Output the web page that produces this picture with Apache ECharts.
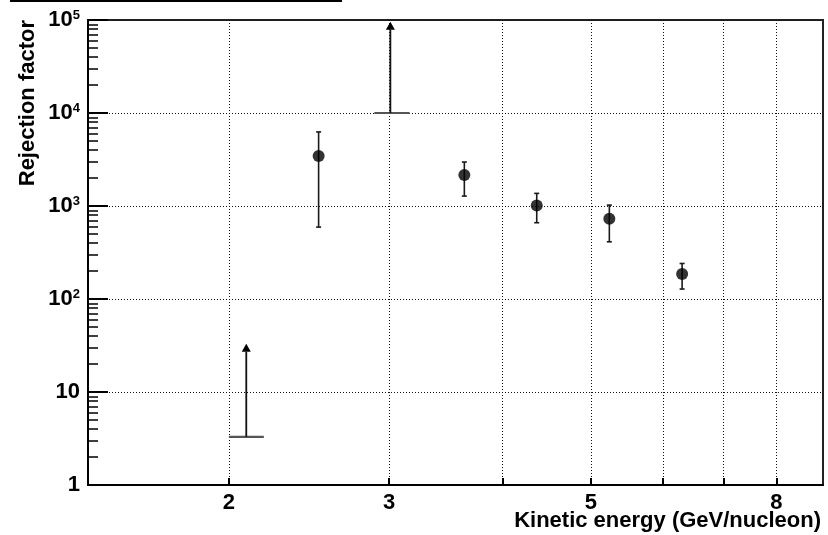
<!DOCTYPE html>
<html>
<head>
<meta charset="utf-8">
<title>Rejection factor vs kinetic energy</title>
<script src="https://cdn.jsdelivr.net/npm/echarts@6/dist/echarts.min.js"></script>
<style>
  html, body { margin: 0; padding: 0; background: #fff; }
  #chart { width: 828px; height: 535px; }
</style>
</head>
<body>
<div id="chart"></div>
<script>
// Measured points (kinetic energy in GeV/nucleon) with asymmetric errors
const energy = [2.51, 3.63, 4.36, 5.24, 6.30];
const rejection = [3450, 2150, 1015, 730, 186];
const rejectionLow = [593, 1278, 661, 412, 128];
const rejectionHigh = [6260, 2970, 1367, 1023, 241];

// Lower limits: bin centre, limit value, arrow end, bin edges
const limitEnergy = [2.09, 3.01];
const limitValue = [3.3, 10000];
const limitArrowEnd = [33, 96000];
const limitBinFrom = [2.0, 2.89];
const limitBinTo = [2.185, 3.16];

// Axis ticks and labels
const xTicks = [2, 3, 4, 5, 6, 7, 8];
const xLabels = [2, 3, 5, 8];
const xRange = [1.4, 9];
const yDecades = [0, 1, 2, 3, 4, 5];
const yMinorMultipliers = [2, 3, 4, 5, 6, 7, 8, 9];

const lg = Math.log10;
const FONT = '"Liberation Sans", Arial, Helvetica, sans-serif';
const FS = 22;

const yMinorTicks = [];
yDecades.slice(0, -1).forEach(d => yMinorMultipliers.forEach(m => yMinorTicks.push(d + lg(m))));

const pointData = energy.map((e, i) => [lg(e), lg(rejection[i])]);
const errorData = energy.map((e, i) => [lg(e), lg(rejectionLow[i]), lg(rejectionHigh[i])]);
const limitData = limitEnergy.map((e, i) => [lg(e), lg(limitValue[i]), lg(limitArrowEnd[i]), lg(limitBinFrom[i]), lg(limitBinTo[i])]);

const chart = echarts.init(document.getElementById('chart'), null, { renderer: 'canvas' });

const dotted = { type: [1, 2], color: '#111', width: 1 };

chart.setOption({
  animation: false,
  backgroundColor: '#fff',
  grid: { left: 88, right: 5, top: 20, bottom: 50, show: true, borderColor: '#222', borderWidth: 2 },
  xAxis: {
    type: 'value',
    min: lg(xRange[0]),
    max: lg(xRange[1]),
    axisLine: { show: true, onZero: false, lineStyle: { color: '#000', width: 2 } },
    axisTick: { show: true, inside: true, length: 7, customValues: xTicks.map(lg), lineStyle: { color: '#000', width: 2 } },
    axisLabel: {
      customValues: xLabels.map(lg),
      formatter: v => String(Math.round(Math.pow(10, v))),
      fontFamily: FONT, fontSize: FS, fontWeight: 'bold', color: '#000', margin: 7
    },
    splitLine: { show: true, lineStyle: dotted }
  },
  yAxis: [{
    type: 'value',
    min: 0, max: 5, interval: 1,
    axisLine: { show: true, onZero: false, lineStyle: { color: '#000', width: 2 } },
    axisTick: { show: true, inside: true, length: 20, lineStyle: { color: '#000', width: 2 } },
    axisLabel: {
      margin: 8,
      formatter: v => v === 0 ? '{b|1}' : (v === 1 ? '{b|10}' : '{b|10}{s|' + v + '}'),
      rich: {
        b: { fontFamily: FONT, fontSize: FS, fontWeight: 'bold', color: '#000' },
        s: { fontFamily: FONT, fontSize: 13, fontWeight: 'bold', color: '#000', verticalAlign: 'top', padding: [0, 0, 4, 0] }
      }
    },
    splitLine: { show: true, lineStyle: dotted }
  }, {
    type: 'value',
    min: 0, max: 5,
    position: 'left',
    axisLine: { show: false },
    axisTick: { show: true, inside: true, length: 10, customValues: yMinorTicks, lineStyle: { color: '#000', width: 1.5 } },
    axisLabel: { show: false },
    splitLine: { show: false }
  }],
  series: [{
    type: 'custom',
    name: 'errors',
    clip: false,
    data: errorData,
    renderItem: (params, api) => {
      const x = api.value(0);
      const lo = api.coord([x, api.value(1)]);
      const hi = api.coord([x, api.value(2)]);
      const st = { stroke: '#1a1a1a', lineWidth: 1.6 };
      const cap = 2.5;
      return {
        type: 'group',
        children: [
          { type: 'line', shape: { x1: lo[0], y1: lo[1], x2: hi[0], y2: hi[1] }, style: st },
          { type: 'line', shape: { x1: hi[0] - cap, y1: hi[1], x2: hi[0] + cap, y2: hi[1] }, style: st },
          { type: 'line', shape: { x1: lo[0] - cap, y1: lo[1], x2: lo[0] + cap, y2: lo[1] }, style: st }
        ]
      };
    }
  }, {
    type: 'custom',
    name: 'limits',
    clip: false,
    data: limitData,
    renderItem: (params, api) => {
      const x = api.value(0);
      const base = api.coord([x, api.value(1)]);
      const tip = api.coord([x, api.value(2)]);
      const left = api.coord([api.value(3), api.value(1)]);
      const right = api.coord([api.value(4), api.value(1)]);
      const headH = 8, headW = 4.5;
      return {
        type: 'group',
        children: [
          { type: 'line', shape: { x1: left[0], y1: left[1], x2: right[0], y2: right[1] }, style: { stroke: '#555', lineWidth: 2.2 } },
          { type: 'line', shape: { x1: base[0], y1: base[1], x2: tip[0], y2: tip[1] + headH }, style: { stroke: '#111', lineWidth: 1.8 } },
          { type: 'polygon', shape: { points: [[tip[0], tip[1]], [tip[0] - headW, tip[1] + headH], [tip[0] + headW, tip[1] + headH]] }, style: { fill: '#000' } }
        ]
      };
    }
  }, {
    type: 'scatter',
    name: 'rejection',
    data: pointData,
    symbol: 'circle',
    symbolSize: 12,
    itemStyle: { color: '#000' },
    z: 5
  }],
  graphic: [
    { type: 'rect', shape: { x: 10, y: 0, width: 332, height: 2 }, style: { fill: '#000' } },
    {
      type: 'text', x: 28, y: 20, rotation: Math.PI / 2,
      style: { text: 'Rejection factor', font: 'bold ' + FS + 'px ' + FONT, fill: '#000', textAlign: 'right', textVerticalAlign: 'middle' }
    },
    {
      type: 'text', x: 821, y: 521,
      style: { text: 'Kinetic energy (GeV/nucleon)', font: 'bold ' + FS + 'px ' + FONT, fill: '#000', textAlign: 'right', textVerticalAlign: 'middle' }
    }
  ]
});
</script>
</body>
</html>
